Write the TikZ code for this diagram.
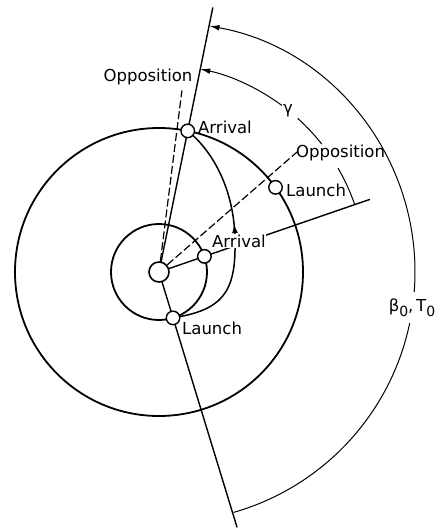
\documentclass[tikz,border=0pt]{standalone}
\usepackage{fontspec}
\setmainfont{DejaVu Sans}
\usetikzlibrary{arrows.meta,decorations.markings}
\begin{document}
\begin{tikzpicture}[x=1pt,y=1pt,
  orbit/.style={line width=1.8pt},
  ray/.style={line width=1.4pt},
  dashline/.style={line width=1.2pt, dash pattern=on 8pt off 3pt},
  angarc/.style={line width=1.0pt},
  transfer/.style={line width=1.5pt},
  planet/.style={circle, draw, line width=1.4pt, fill=white, minimum size=13.5pt, inner sep=0pt},
  sunbody/.style={circle, draw, line width=1.6pt, fill=white, minimum size=20pt, inner sep=0pt},
  lbl/.style={font=\fontsize{16.5}{19}\selectfont, inner sep=0pt},
  tipend/.style={-{Latex[length=10pt,width=5.5pt]}}
]
\useasboundingbox (-159,-256) rectangle (282,272);
\coordinate (S) at (0,0);
\coordinate (topend) at (78.5:270);
\coordinate (botend) at (-73:267);
\coordinate (arrend) at (19:223);
\coordinate (opp1end) at (82.8:183);
\coordinate (opp2end) at (41:183);
\coordinate (L1) at (-73:48);
\coordinate (A1) at (78.5:144);
\coordinate (A2) at (19:48);
\coordinate (L2) at (36:144);
\coordinate (mid) at (76,30);

% orbits
\draw[orbit] (S) circle[radius=144];
\draw[orbit] (S) circle[radius=48];

% rays
\draw[ray] (S) -- (topend);
\draw[ray] (S) -- (botend);
\draw[ray] (S) -- (arrend);
\draw[dashline] (S) -- (opp1end);
\draw[dashline] (S) -- (opp2end);

% transfer trajectory
\draw[transfer] (L1) .. controls (62,-38) and (77,-22) .. (mid);
\draw[transfer, postaction=decorate,
  decoration={markings, mark=at position 18pt with {\arrow{Latex[length=9pt,width=6pt]}}}]
  (mid) .. controls (76,80) and (55,120) .. (A1);

% gamma arc
\draw[angarc] (19.1:207) arc[start angle=19.1, end angle=30.1, radius=207];
\draw[angarc] (38.2:207) arc[start angle=38.2, end angle=47.9, radius=207];
\draw[angarc, tipend] (53.6:207) arc[start angle=53.6, end angle=78.5, radius=207];

% beta arc
\draw[angarc, tipend] (6,0) ++(-4.6:250) arc[start angle=-4.6, end angle=79.75, radius=250];
\draw[angarc] (6,0) ++(-11.8:250) arc[start angle=-11.8, end angle=-74.1, radius=250];

% labels
\node[lbl, anchor=west] (arrO) at (39,145) {Arrival};
\node[lbl, anchor=west, fill=white, inner sep=0.5pt] (arrI) at (52.5,31) {Arrival};
\node[lbl, anchor=west] (lauO) at (127,82) {Launch};
\node[lbl, anchor=west] (lauI) at (23,-56) {Launch};
\node[lbl] (opp1) at (-11,195) {Opposition};
\node[lbl, anchor=west] (opp2) at (137,119) {Opposition};
\node[lbl] (gam) at (129,161) {γ};
\node[lbl] (beta) at (253,-36) {β\raisebox{-5pt}{\fontsize{14}{14}\selectfont 0},\,T\raisebox{-5pt}{\fontsize{14}{14}\selectfont 0}};

% bodies
\node[planet] (pA1) at (A1) {};
\node[planet] (pL1) at (L1) {};
\node[planet] (pA2) at (A2) {};
\node[planet] (pL2) at (L2) {};
\node[sunbody] (sun) at (S) {};
\end{tikzpicture}
\end{document}
